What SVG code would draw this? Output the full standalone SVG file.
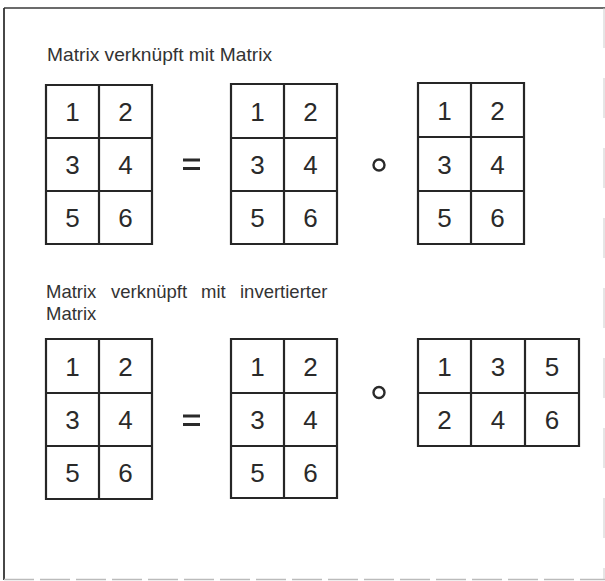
<svg xmlns="http://www.w3.org/2000/svg" width="605" height="581" viewBox="0 0 605 581">
<style>
.grid{fill:none;stroke:#262626;stroke-width:2.2;stroke-linejoin:miter}
.d{font-family:"Liberation Sans",Arial,sans-serif;font-size:26px;fill:#2a2a2a;text-anchor:middle}
.t{font-family:"Liberation Sans",Arial,sans-serif;font-size:18.5px;fill:#333}
.op{stroke:#2a2a2a;stroke-width:3;fill:none}
.ring{fill:none;stroke:#2a2a2a;stroke-width:2.4}
</style>
<rect width="605" height="581" fill="#fff"/>
<g id="frame">
<line x1="4" y1="8" x2="605" y2="8" stroke="#3a3a3a" stroke-width="1.6"/>
<line x1="4" y1="8" x2="4" y2="580" stroke="#333" stroke-width="1.8"/>
<line x1="4" y1="579.5" x2="605" y2="579.5" stroke="#bbb" stroke-width="1.5" stroke-dasharray="30 6"/>
<line x1="604" y1="8" x2="604" y2="579" stroke="#ccc" stroke-width="1" stroke-dasharray="40 30"/>
</g>
<g id="title1"><text class="t" x="47" y="61" textLength="225" lengthAdjust="spacingAndGlyphs">Matrix verknüpft mit Matrix</text></g>
<g id="title2">
<text class="t" y="298"><tspan x="46">Matrix</tspan><tspan x="111">verknüpft</tspan><tspan x="201">mit</tspan><tspan x="240">invertierter</tspan></text>
<text class="t" x="46" y="320">Matrix</text>
</g>

<g id="m1">
<path class="grid" d="M46 85H152V244H46Z M99 85V244 M46 138H152 M46 191H152"/>
<text class="d" x="72.5" y="121">1</text><text class="d" x="125.5" y="121">2</text>
<text class="d" x="72.5" y="174">3</text><text class="d" x="125.5" y="174">4</text>
<text class="d" x="72.5" y="227">5</text><text class="d" x="125.5" y="227">6</text>
</g>
<g id="eq1"><path class="op" d="M183 160H200 M183 168.5H200"/></g>
<g id="m2">
<path class="grid" d="M231 84H337V244H231Z M284 84V244 M231 138H337 M231 191H337"/>
<text class="d" x="257.5" y="120.5">1</text><text class="d" x="310.5" y="120.5">2</text>
<text class="d" x="257.5" y="174">3</text><text class="d" x="310.5" y="174">4</text>
<text class="d" x="257.5" y="227">5</text><text class="d" x="310.5" y="227">6</text>
</g>
<g id="op1"><circle class="ring" cx="379" cy="165" r="5.5"/></g>
<g id="m3">
<path class="grid" d="M418 83H524V244H418Z M471 83V244 M418 137H524 M418 191H524"/>
<text class="d" x="444.5" y="120">1</text><text class="d" x="497.5" y="120">2</text>
<text class="d" x="444.5" y="174">3</text><text class="d" x="497.5" y="174">4</text>
<text class="d" x="444.5" y="227">5</text><text class="d" x="497.5" y="227">6</text>
</g>

<g id="m4">
<path class="grid" d="M46 339H152V499H46Z M99 339V499 M46 393H152 M46 446H152"/>
<text class="d" x="72.5" y="375.5">1</text><text class="d" x="125.5" y="375.5">2</text>
<text class="d" x="72.5" y="429">3</text><text class="d" x="125.5" y="429">4</text>
<text class="d" x="72.5" y="482">5</text><text class="d" x="125.5" y="482">6</text>
</g>
<g id="eq2"><path class="op" d="M183 416H200 M183 424.5H200"/></g>
<g id="m5">
<path class="grid" d="M231 339H337V498H231Z M284 339V498 M231 393H337 M231 446H337"/>
<text class="d" x="257.5" y="375.5">1</text><text class="d" x="310.5" y="375.5">2</text>
<text class="d" x="257.5" y="429">3</text><text class="d" x="310.5" y="429">4</text>
<text class="d" x="257.5" y="481.5">5</text><text class="d" x="310.5" y="481.5">6</text>
</g>
<g id="op2"><circle class="ring" cx="379" cy="392.5" r="5.5"/></g>
<g id="m6">
<path class="grid" d="M418 339H579V446H418Z M471 339V446 M525 339V446 M418 393H579"/>
<text class="d" x="444.5" y="375.5">1</text><text class="d" x="498" y="375.5">3</text><text class="d" x="552" y="375.5">5</text>
<text class="d" x="444.5" y="429">2</text><text class="d" x="498" y="429">4</text><text class="d" x="552" y="429">6</text>
</g>
</svg>
